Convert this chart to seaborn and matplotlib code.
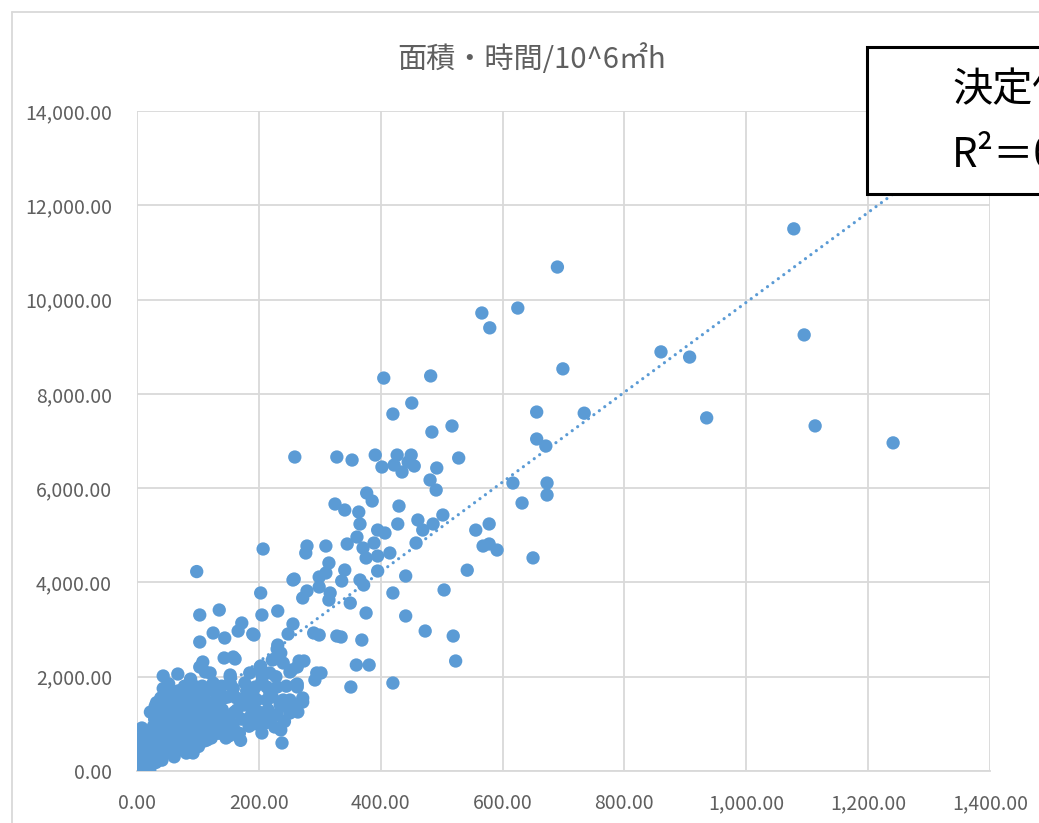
import numpy as np
import pandas as pd
import matplotlib
matplotlib.use("Agg")
import matplotlib.pyplot as plt
from matplotlib.ticker import StrMethodFormatter, MultipleLocator
from matplotlib.lines import Line2D
from matplotlib.patches import Rectangle
import seaborn as sns

# Area (x) and time-weighted area (y) per project, in 10^6 m2 h
area_spread = [1078, 690, 1095, 860, 907, 625, 566, 579, 699, 405, 482, 1241, 1113, 935, 734,
               451, 420, 484, 517,
               328, 353, 391, 402, 427, 422, 435, 450, 445, 455, 492, 528, 481, 491, 617, 656, 656,
               671, 673, 673, 632,
               325, 341, 364, 377, 386, 430, 259,
               650, 542, 504, 578, 556, 568, 578, 591, 502, 486, 469, 461, 458, 428,
               366, 361, 345, 371, 376, 395, 407, 389, 395, 415, 395, 420, 441, 441, 473, 519, 523,
               420, 381, 360, 369, 376, 366, 372, 350, 341, 336, 315, 310, 279, 277, 299, 310, 299,
               279, 272, 317, 315, 258, 207, 203, 205, 231, 256, 248, 192, 290, 299, 328, 335]
time_spread = [11500, 10690, 9250, 8890, 8780, 9820, 9715, 9400, 8530, 8335, 8380, 6960, 7320, 7490, 7590,
               7805, 7572, 7190, 7318,
               6660, 6596, 6702, 6448, 6702, 6490, 6342, 6702, 6554, 6469, 6427, 6639, 6172, 5960, 6108,
               7614, 7042, 6893, 6108, 5854, 5684,
               5663, 5536, 5493, 5896, 5727, 5620, 6660,
               4520, 4260, 3840, 5240, 5110, 4772, 4815, 4687, 5430, 5239, 5111, 5324, 4836, 5239,
               5239, 4963, 4815, 4730, 4518, 5111, 5048, 4836, 4560, 4624, 4242, 3776, 4136, 3288, 2969,
               2863, 2333, 1866, 2248, 2248, 2778, 3351, 4051, 3945, 3563, 4263, 4030, 4412, 4772, 4772,
               4624, 4115, 4200, 3903, 3818, 3670, 3776, 3627, 4072, 4709, 3776, 3309, 3394, 3118, 2906,
               2884, 2927, 2884, 2863, 2842]

area_mid = [230, 236, 226, 254, 266, 274, 295, 302, 292, 263, 351, 272, 203,
            98, 103, 135, 103, 125, 144, 166, 172, 190, 256, 43, 67, 108, 143, 161, 153, 153, 131,
            92, 238, 236, 205, 210, 185, 190,
            231, 222, 263, 251, 261, 158, 103, 153, 185, 202, 205, 177, 194, 213, 222, 197, 174,
            235, 251, 272, 263, 251, 264, 213, 164, 148, 158, 136, 120, 103, 98, 115, 92, 108, 95,
            125, 120, 240, 218, 230, 190, 213, 240, 263, 149, 112]
time_mid = [2588, 2503, 2376, 2142, 2333, 2333, 2079, 2079, 1930, 1845, 1781, 1548, 2227,
            4230, 3309, 3415, 2736, 2927, 2821, 2969, 3139, 2906, 4051, 2015, 2057, 2312, 2397, 2376,
            1994, 1866, 1590, 382, 594, 870, 806, 1018, 1082, 1357,
            2672, 2354, 2206, 2100, 1824, 2418, 2206, 2036, 2079, 2206, 2036, 1866, 1782, 1782, 1570,
            1506, 1463, 1400, 1506, 1463, 1782, 1230, 1251, 1039, 1294, 1145, 933, 870, 1082, 1230,
            933, 658, 658, 1400, 1654, 1866, 2079, 2290, 2079, 1782, 1654, 1506, 1506, 1400, 1570, 2100]

area_dense = [2, 5, 4, 7, 9, 6, 8,
              12, 15, 11, 14, 16, 18, 13, 19, 17,
              21, 22, 24, 26, 23, 28, 25, 27, 29, 22, 30,
              31, 33, 35, 37, 34, 36, 38, 32, 39, 35,
              41, 43, 45, 47, 44, 46, 48, 42, 49, 43,
              51, 53, 55, 57, 52, 54, 58, 56, 59, 52,
              61, 63, 65, 67, 62, 64, 68, 66, 69,
              71, 73, 75, 77, 72, 74, 78, 76, 79,
              81, 83, 85, 87, 82, 84, 88, 86, 89,
              91, 93, 95, 97, 92, 94, 99, 96, 98,
              101, 104, 106, 109, 112, 115, 118, 102, 107, 111, 116, 119,
              122, 125, 128, 131, 134, 137, 140, 143, 146, 149, 127, 139, 145,
              152, 156, 160, 163, 168, 172, 176, 180, 184, 188, 170, 182, 158,
              195, 200, 208, 215, 220, 226, 230, 242, 247, 218, 205, 228, 245]
time_dense = [85, 180, 350, 520, 260, 700, 912,
              40, 64, 150, 300, 420, 658, 560, 220, 800,
              30, 120, 360, 500, 640, 250, 780, 950, 1100, 1250, 1380,
              180, 420, 600, 300, 850, 1000, 1200, 1450, 1550, 1300,
              230, 500, 700, 950, 1150, 1350, 1600, 1050, 1250, 1750,
              420, 650, 850, 1050, 1200, 1400, 1500, 1700, 1000, 1850,
              300, 550, 800, 1100, 1300, 1550, 1700, 950, 1400,
              450, 700, 900, 1200, 1350, 1600, 1800, 1050, 550,
              380, 750, 1000, 1250, 1450, 1650, 1950, 850, 1150,
              600, 850, 1100, 1350, 1550, 1800, 1000, 700, 1250,
              520, 780, 1050, 1300, 1500, 1700, 900, 1600, 1800, 640, 1150, 1400,
              700, 950, 1200, 1400, 800, 1050, 1300, 1550, 700, 950, 1700, 1800, 1150,
              750, 1000, 1250, 1550, 800, 1100, 1400, 1700, 950, 1200, 650, 1550, 1750,
              1000, 1250, 1150, 1300, 1100, 933, 1200, 1050, 1350, 1650, 1900, 2000, 1800]

title_text = "面積・時間/10^6㎡h"
y_ticks = [0, 2000, 4000, 6000, 8000, 10000, 12000, 14000]
x_ticks = [0, 200, 400, 600, 800, 1000, 1200, 1400]

df = pd.DataFrame({
    "area": area_spread + area_mid + area_dense,
    "time": time_spread + time_mid + time_dense,
})

# Least-squares fit for the coefficient of determination shown in the box
slope, intercept = np.polyfit(df["area"], df["time"], 1)
pred = slope * df["area"] + intercept
r2 = 1 - ((df["time"] - pred) ** 2).sum() / ((df["time"] - df["time"].mean()) ** 2).sum()

sns.set_theme(style="white")
plt.rcParams["font.family"] = ["Noto Sans CJK JP", "DejaVu Sans"]

blue = "#5B9BD5"
grid_c = "#D9D9D9"
text_c = "#5F5F5F"

W, H = 1039, 823
fig = plt.figure(figsize=(W / 100, H / 100), dpi=100)
ax = fig.add_axes([137 / W, 1 - 771 / H, (990 - 137) / W, (771 - 111) / H])

sns.scatterplot(data=df, x="area", y="time", ax=ax, color=blue, s=92,
                edgecolor="none", linewidth=0, zorder=3, legend=False)
sns.regplot(data=df, x="area", y="time", ax=ax, scatter=False, ci=None,
            line_kws={"color": blue, "linewidth": 2.3, "linestyle": (0, (0.01, 2.1)),
                      "dash_capstyle": "round", "zorder": 4})

ax.set_xlim(x_ticks[0], x_ticks[-1])
ax.set_ylim(y_ticks[0], y_ticks[-1])
ax.xaxis.set_major_locator(MultipleLocator(200))
ax.yaxis.set_major_locator(MultipleLocator(2000))
ax.xaxis.set_major_formatter(StrMethodFormatter("{x:,.2f}"))
ax.yaxis.set_major_formatter(StrMethodFormatter("{x:,.2f}"))
ax.set_xlabel("")
ax.set_ylabel("")
ax.grid(True, color=grid_c, linewidth=1.3)
ax.set_axisbelow(True)
for name, sp in ax.spines.items():
    sp.set_visible(name == "bottom")
    sp.set_color(grid_c)
    sp.set_linewidth(1.3)
ax.tick_params(axis="both", length=0, labelsize=14, labelcolor=text_c)
ax.tick_params(axis="y", pad=18)
ax.tick_params(axis="x", pad=16)

fig.text(532 / W, 1 - 60 / H, title_text, ha="center", va="center",
         fontsize=21, color=text_c)

# Chart-area border
fig.add_artist(Line2D([12 / W, 12 / W], [0, 1 - 12 / H], color=grid_c, linewidth=1.3))
fig.add_artist(Line2D([12 / W, 1], [1 - 12 / H, 1 - 12 / H], color=grid_c, linewidth=1.3))

# Text box with the coefficient of determination
fig.add_artist(Rectangle((867 / W, 1 - 194 / H), (W + 50 - 867) / W, (194 - 47) / H,
                         facecolor="white", edgecolor="black", linewidth=2.2,
                         transform=fig.transFigure, zorder=10))
fig.text(952 / W, 1 - 122 / H, f"決定係数\nR²＝{r2:.4f}", ha="left", va="center",
         fontsize=29, color="black", linespacing=1.8, zorder=11)

fig.savefig("out.png", dpi=100)
